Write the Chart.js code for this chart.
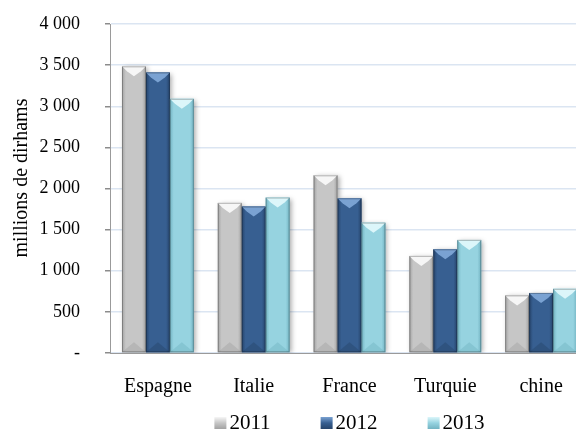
<!DOCTYPE html>
<html>
<head>
<meta charset="utf-8">
<script src="https://cdn.jsdelivr.net/npm/chart.js@4"></script>
<style>
  html, body { margin: 0; padding: 0; background: #fff; overflow: hidden; }
  #wrap { width: 592px; height: 430px; }
</style>
</head>
<body>
<div id="wrap"><canvas id="chart" width="592" height="430"></canvas></div>
<script>
(function() {
  const countries = ['Espagne', 'Italie', 'France', 'Turquie', 'chine'];
  const years = ['2011', '2012', '2013'];
  const values2011 = [3485, 1825, 2160, 1180, 700];
  const values2012 = [3410, 1780, 1880, 1260, 730];
  const values2013 = [3090, 1890, 1585, 1375, 780];
  const yTicks = [0, 500, 1000, 1500, 2000, 2500, 3000, 3500, 4000];
  const yTitle = 'millions de dirhams';

  // base, edge (sides/bottom), highlight (top bevel)
  const palette = [
    { base: '#c6c6c6', edge: '#a2a2a2', light: '#f6f6f6' },
    { base: '#375f91', edge: '#26446b', light: '#7aa2d2' },
    { base: '#96d3e0', edge: '#72b3c2', light: '#dcf6fa' }
  ];

  const serif = '"Liberation Serif", "DejaVu Serif", serif';

  function fmt(v) {
    if (v === 0) return '-';
    return String(v).replace(/\B(?=(\d{3})+(?!\d))/g, ' ');
  }

  // drop shadow under each dataset's bars
  const shadowPlugin = {
    id: 'barShadow',
    beforeDatasetDraw(chart) {
      const ctx = chart.ctx;
      ctx.save();
      ctx.shadowColor = 'rgba(0,0,0,0.35)';
      ctx.shadowBlur = 5;
      ctx.shadowOffsetX = 2;
      ctx.shadowOffsetY = 1;
    },
    afterDatasetDraw(chart) {
      chart.ctx.restore();
    }
  };

  // bevel look: darker sides, light triangle on top, faint triangle at foot
  const bevelPlugin = {
    id: 'bevel',
    afterDatasetsDraw(chart) {
      const ctx = chart.ctx;
      chart.data.datasets.forEach((ds, di) => {
        const meta = chart.getDatasetMeta(di);
        const c = palette[di];
        meta.data.forEach(bar => {
          const w = bar.width;
          const l = bar.x - w / 2, r = bar.x + w / 2;
          const top = bar.y, base = bar.base;
          const b = Math.min(5, w / 4);
          ctx.save();
          const g = ctx.createLinearGradient(l, 0, r, 0);
          g.addColorStop(0, c.edge);
          g.addColorStop(0.16, c.base);
          g.addColorStop(0.84, c.base);
          g.addColorStop(1, c.edge);
          ctx.fillStyle = g;
          ctx.fillRect(l, top, w, base - top);
          ctx.beginPath();
          ctx.moveTo(l, top);
          ctx.lineTo(r, top);
          ctx.lineTo(r - b, top + b);
          ctx.lineTo(bar.x, top + b * 2);
          ctx.lineTo(l + b, top + b);
          ctx.closePath();
          ctx.fillStyle = c.light;
          ctx.fill();
          ctx.beginPath();
          ctx.moveTo(l, base);
          ctx.lineTo(r, base);
          ctx.lineTo(bar.x, base - b * 2);
          ctx.closePath();
          ctx.fillStyle = c.edge;
          ctx.globalAlpha = 0.45;
          ctx.fill();
          ctx.globalAlpha = 1;
          ctx.strokeStyle = 'rgba(0,0,0,0.25)';
          ctx.lineWidth = 1;
          ctx.strokeRect(l + 0.5, top + 0.5, w - 1, base - top - 1);
          ctx.restore();
        });
      });
    }
  };

  // legend under the plot and the rotated y title
  const textPlugin = {
    id: 'extraText',
    afterDraw(chart) {
      const ctx = chart.ctx;
      const area = chart.chartArea;
      ctx.save();
      ctx.font = '21px ' + serif;
      ctx.textBaseline = 'alphabetic';
      const box = 12, gap = 3, space = 50;
      const items = chart.data.datasets.map((ds, i) => ({
        text: ds.label,
        c: palette[i],
        w: box + gap + ctx.measureText(ds.label).width
      }));
      const total = items.reduce((s, it) => s + it.w, 0) + space * (items.length - 1);
      let x = (area.left + area.right) / 2 - total / 2;
      const baseline = 429;
      items.forEach(it => {
        const by = baseline - box;
        const g = ctx.createLinearGradient(x, by, x, by + box);
        g.addColorStop(0, it.c.light);
        g.addColorStop(0.5, it.c.base);
        g.addColorStop(1, it.c.edge);
        ctx.fillStyle = g;
        ctx.fillRect(x, by, box, box);
        ctx.fillStyle = '#000';
        ctx.fillText(it.text, x + box + gap, baseline);
        x += it.w + space;
      });

      // y axis title
      ctx.translate(22, 178);
      ctx.rotate(-Math.PI / 2);
      ctx.font = '20px ' + serif;
      ctx.textAlign = 'center';
      ctx.textBaseline = 'middle';
      ctx.fillText(yTitle, 0, 0);
      ctx.restore();
    }
  };

  const allSeries = [values2011, values2012, values2013];

  new Chart(document.getElementById('chart'), {
    type: 'bar',
    data: {
      labels: countries,
      datasets: years.map((y, i) => ({
        label: y,
        data: allSeries[i],
        backgroundColor: palette[i].base,
        borderWidth: 0,
        categoryPercentage: 0.75,
        barPercentage: 1
      }))
    },
    options: {
      responsive: false,
      animation: false,
      layout: { padding: { left: 0, top: 24, right: 3, bottom: 32 } },
      plugins: {
        legend: { display: false },
        tooltip: { enabled: false }
      },
      scales: {
        x: {
          afterFit(axis) { axis.height = 45; },
          grid: { display: false },
          border: { color: '#9a9a9a' },
          ticks: { color: '#000', font: { family: serif, size: 20 }, padding: 14 }
        },
        y: {
          min: 0,
          max: 4000,
          afterFit(axis) { axis.width = 110; axis.paddingTop = 0; },
          afterBuildTicks(axis) { axis.ticks = yTicks.map(v => ({ value: v })); },
          grid: { color: '#dbe5f2', lineWidth: 1.5, tickColor: '#8c8c8c', tickLength: 5 },
          border: { color: '#9a9a9a' },
          ticks: {
            color: '#000',
            font: { family: serif, size: 18 },
            padding: 25,
            callback: v => fmt(v)
          }
        }
      }
    },
    plugins: [shadowPlugin, bevelPlugin, textPlugin]
  });
})();
</script>
</body>
</html>
